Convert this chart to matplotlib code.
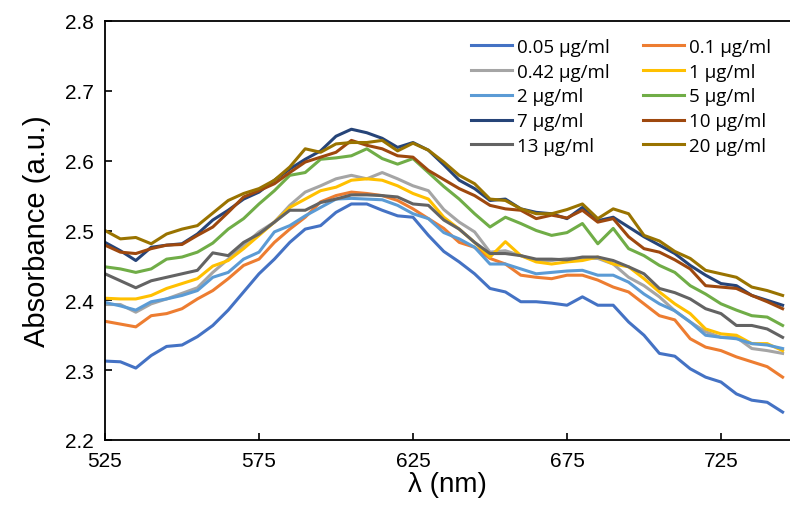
import numpy as np
from matplotlib import pyplot as plt

# wavelength grid (nm), read every 5 nm off the chart
wavelength = list(range(525, 750, 5))

abs_005 = [2.313, 2.312, 2.303, 2.321, 2.334, 2.336, 2.348, 2.364, 2.386, 2.412,
           2.438, 2.459, 2.483, 2.502, 2.507, 2.526, 2.538, 2.538, 2.529, 2.521,
           2.519, 2.493, 2.470, 2.455, 2.438, 2.417, 2.412, 2.398, 2.398, 2.396,
           2.393, 2.405, 2.393, 2.393, 2.369, 2.350, 2.324, 2.320, 2.302, 2.290,
           2.283, 2.266, 2.257, 2.254, 2.240]
abs_01 = [2.370, 2.366, 2.362, 2.378, 2.381, 2.388, 2.402, 2.414, 2.431, 2.450,
          2.459, 2.483, 2.502, 2.519, 2.541, 2.550, 2.555, 2.553, 2.550, 2.543,
          2.531, 2.517, 2.503, 2.483, 2.476, 2.460, 2.452, 2.436, 2.433, 2.431,
          2.436, 2.436, 2.429, 2.419, 2.412, 2.395, 2.378, 2.372, 2.345, 2.333,
          2.328, 2.319, 2.312, 2.305, 2.290]
abs_042 = [2.394, 2.394, 2.383, 2.395, 2.402, 2.410, 2.418, 2.440, 2.459, 2.479,
           2.498, 2.512, 2.536, 2.555, 2.564, 2.574, 2.579, 2.574, 2.583, 2.574,
           2.564, 2.557, 2.530, 2.512, 2.498, 2.469, 2.471, 2.464, 2.457, 2.457,
           2.460, 2.460, 2.460, 2.452, 2.433, 2.421, 2.405, 2.385, 2.369, 2.355,
           2.347, 2.347, 2.331, 2.328, 2.324]
abs_1 = [2.403, 2.402, 2.402, 2.407, 2.417, 2.424, 2.431, 2.449, 2.457, 2.474,
         2.493, 2.512, 2.533, 2.545, 2.557, 2.562, 2.572, 2.574, 2.572, 2.564,
         2.553, 2.545, 2.519, 2.502, 2.483, 2.462, 2.484, 2.464, 2.455, 2.452,
         2.455, 2.457, 2.462, 2.452, 2.448, 2.431, 2.412, 2.395, 2.381, 2.359,
         2.352, 2.350, 2.338, 2.338, 2.328]
abs_2 = [2.397, 2.392, 2.386, 2.398, 2.402, 2.407, 2.414, 2.433, 2.440, 2.459,
         2.469, 2.498, 2.507, 2.521, 2.533, 2.545, 2.546, 2.545, 2.544, 2.536,
         2.524, 2.517, 2.497, 2.488, 2.476, 2.452, 2.452, 2.445, 2.438, 2.440,
         2.442, 2.443, 2.436, 2.436, 2.426, 2.409, 2.395, 2.385, 2.369, 2.350,
         2.347, 2.345, 2.338, 2.336, 2.331]
abs_5 = [2.448, 2.445, 2.440, 2.445, 2.459, 2.462, 2.469, 2.482, 2.502, 2.517,
         2.538, 2.557, 2.579, 2.583, 2.602, 2.604, 2.607, 2.617, 2.603, 2.595,
         2.603, 2.583, 2.563, 2.545, 2.524, 2.505, 2.519, 2.510, 2.500, 2.493,
         2.497, 2.510, 2.481, 2.503, 2.474, 2.464, 2.450, 2.440, 2.421, 2.409,
         2.395, 2.386, 2.378, 2.376, 2.364]
abs_7 = [2.483, 2.471, 2.457, 2.476, 2.479, 2.481, 2.495, 2.515, 2.529, 2.545,
         2.555, 2.572, 2.588, 2.602, 2.614, 2.635, 2.645, 2.640, 2.632, 2.619,
         2.626, 2.615, 2.594, 2.572, 2.560, 2.543, 2.545, 2.531, 2.526, 2.524,
         2.517, 2.533, 2.514, 2.519, 2.505, 2.491, 2.479, 2.467, 2.450, 2.436,
         2.424, 2.421, 2.407, 2.400, 2.393]
abs_10 = [2.479, 2.469, 2.467, 2.474, 2.479, 2.480, 2.493, 2.505, 2.526, 2.548,
          2.557, 2.567, 2.583, 2.598, 2.605, 2.612, 2.629, 2.622, 2.617, 2.607,
          2.605, 2.586, 2.573, 2.560, 2.550, 2.536, 2.531, 2.529, 2.517, 2.522,
          2.518, 2.529, 2.512, 2.517, 2.491, 2.474, 2.469, 2.458, 2.445, 2.421,
          2.419, 2.417, 2.407, 2.398, 2.388]
abs_13 = [2.438, 2.428, 2.418, 2.428, 2.433, 2.438, 2.443, 2.468, 2.464, 2.483,
          2.495, 2.512, 2.529, 2.529, 2.540, 2.545, 2.551, 2.551, 2.550, 2.548,
          2.538, 2.536, 2.515, 2.502, 2.483, 2.467, 2.467, 2.464, 2.459, 2.459,
          2.458, 2.462, 2.462, 2.457, 2.448, 2.438, 2.417, 2.411, 2.402, 2.388,
          2.381, 2.364, 2.364, 2.359, 2.347]
abs_20 = [2.500, 2.488, 2.490, 2.481, 2.495, 2.502, 2.507, 2.525, 2.543, 2.553,
          2.560, 2.572, 2.591, 2.617, 2.612, 2.624, 2.626, 2.626, 2.629, 2.614,
          2.625, 2.615, 2.598, 2.579, 2.567, 2.545, 2.543, 2.531, 2.524, 2.524,
          2.530, 2.538, 2.517, 2.531, 2.524, 2.493, 2.485, 2.470, 2.460, 2.443,
          2.438, 2.433, 2.419, 2.414, 2.407]

labels = ["0.05 µg/ml", "0.1 µg/ml", "0.42 µg/ml", "1 µg/ml", "2 µg/ml",
          "5 µg/ml", "7 µg/ml", "10 µg/ml", "13 µg/ml", "20 µg/ml"]
colors = ["#4472C4", "#ED7D31", "#A5A5A5", "#FFC000", "#5B9BD5",
          "#70AD47", "#264478", "#9E480E", "#636363", "#997300"]
series = [abs_005, abs_01, abs_042, abs_1, abs_2, abs_5, abs_7, abs_10, abs_13, abs_20]

x_ticks = [525, 575, 625, 675, 725]
y_ticks = [2.2, 2.3, 2.4, 2.5, 2.6, 2.7, 2.8]


def plot_spectra():
    plt.rcParams['font.family'] = ['Liberation Sans', 'DejaVu Sans']
    fig = plt.figure(figsize=(7.9, 5.1), dpi=100)
    ax = fig.add_axes([105 / 790, 1 - 441 / 510, 1 - 105 / 790, (441 - 22) / 510])

    lines = []
    for y, lab, c in zip(series, labels, colors):
        ln, = ax.plot(wavelength, y, color=c, lw=2.2, label=lab, solid_joinstyle='round')
        lines.append(ln)

    ax.set_xlim(525, 747.4)
    ax.set_ylim(2.2, 2.8)
    ax.set_xticks(x_ticks)
    ax.set_yticks(y_ticks)
    ax.set_yticklabels(["{:.1f}".format(v) for v in y_ticks])
    ax.tick_params(direction='in', length=5, width=1.2, labelsize=15, pad=8)
    ax.spines['right'].set_visible(False)
    for s in ['left', 'bottom', 'top']:
        ax.spines[s].set_linewidth(1.3)

    ax.set_xlabel("λ (nm)", fontsize=20, labelpad=1)
    ax.set_ylabel("Absorbance (a.u.)", fontsize=21, labelpad=10)

    # Excel fills the legend row by row; matplotlib fills by column
    order = [0, 2, 4, 6, 8, 1, 3, 5, 7, 9]
    fig.legend([lines[i] for i in order], [labels[i] for i in order],
               loc='upper left', bbox_to_anchor=(471 / 790, 1 - 39 / 510),
               ncol=2, frameon=False, borderpad=0, borderaxespad=0,
               handlelength=2.2, handletextpad=0.27, columnspacing=1.75,
               labelspacing=0.36, prop={'family': ['Open Sans', 'DejaVu Sans'], 'size': 13.5})

    plt.savefig("out.png", dpi=100)
    plt.close()


if __name__ == "__main__":
    plot_spectra()
